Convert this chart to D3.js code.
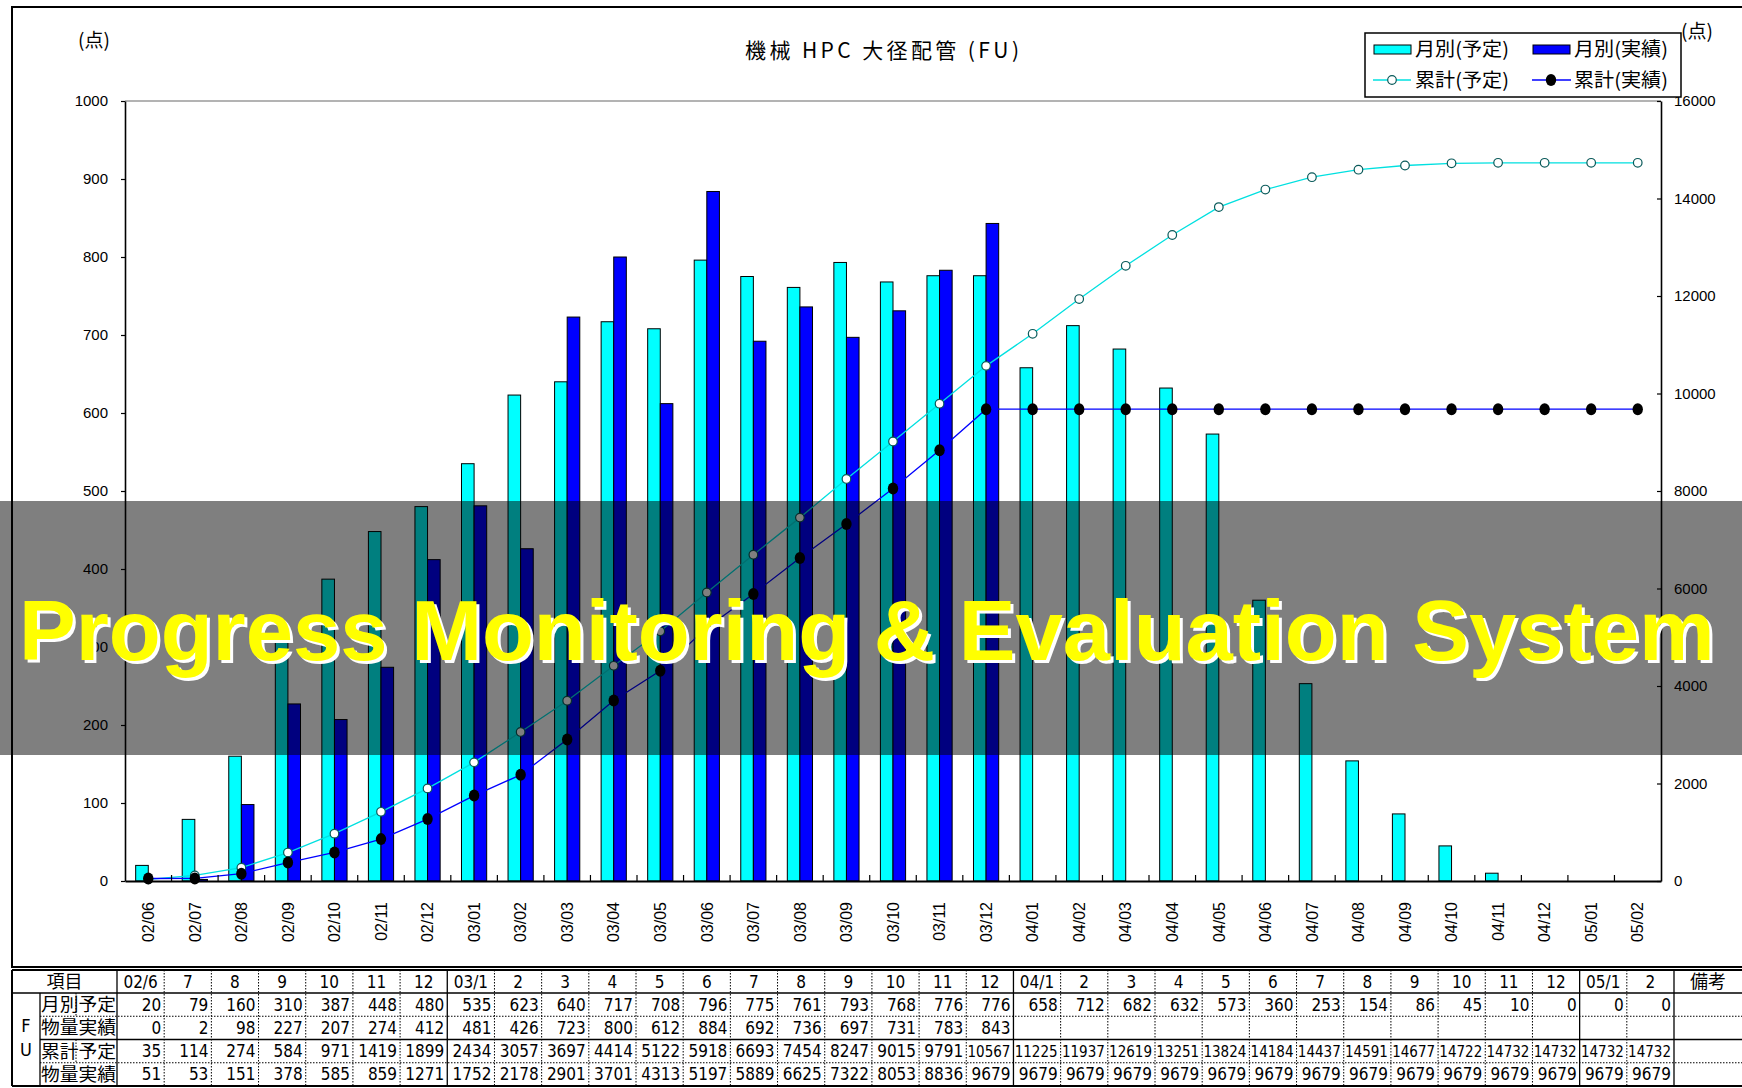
<!DOCTYPE html>
<html>
<head>
<meta charset="utf-8">
<script src="https://cdn.jsdelivr.net/npm/d3@7"></script>
<style>
  body { margin: 0; background: #fff; }
  svg { display: block; }
</style>
</head>
<body>
<svg id="chart" width="1742" height="1088"></svg>
<script>
// ---- data ----
const months = ["02/06","02/07","02/08","02/09","02/10","02/11","02/12",
  "03/01","03/02","03/03","03/04","03/05","03/06","03/07","03/08","03/09","03/10","03/11","03/12",
  "04/01","04/02","04/03","04/04","04/05","04/06","04/07","04/08","04/09","04/10","04/11","04/12",
  "05/01","05/02"];
const tableHeads = ["02/6","7","8","9","10","11","12",
  "03/1","2","3","4","5","6","7","8","9","10","11","12",
  "04/1","2","3","4","5","6","7","8","9","10","11","12",
  "05/1","2"];
const planMonthly = [20,79,160,310,387,448,480,535,623,640,717,708,796,775,761,793,768,776,776,
  658,712,682,632,573,360,253,154,86,45,10,0,0,0];
const actualMonthly = [0,2,98,227,207,274,412,481,426,723,800,612,884,692,736,697,731,783,843];
const planCumulative = [35,114,274,584,971,1419,1899,2434,3057,3697,4414,5122,5918,6693,7454,8247,9015,9791,10567,
  11225,11937,12619,13251,13824,14184,14437,14591,14677,14722,14732,14732,14732,14732];
const actualCumulative = [51,53,151,378,585,859,1271,1752,2178,2901,3701,4313,5197,5889,6625,7322,8053,8836,9679,
  9679,9679,9679,9679,9679,9679,9679,9679,9679,9679,9679,9679,9679,9679];
const leftTicks = [0,100,200,300,400,500,600,700,800,900,1000];
const rightTicks = [0,2000,4000,6000,8000,10000,12000,14000,16000];
const rowLabels = [["月別","予定"],["物量","実績"],["累計","予定"],["物量","実績"]];
const legendItems = ["月別(予定)","月別(実績)","累計(予定)","累計(実績)"];
const titleText = "機械 HPC 大径配管 (FU)";
const unitText = "(点)";
const bannerText = "Progress Monitoring & Evaluation System";

// ---- layout ----
const W = 1742, H = 1088;
const plot = { left: 125, right: 1661, top: 101, bottom: 881 };
const CYAN = "#00FFFF", BLUE = "#0000FF";
const latin = "'Liberation Sans', Arial, sans-serif";
const narrow = "'Liberation Sans Narrow', 'DejaVu Sans Condensed', 'Liberation Sans', sans-serif";
const cjk = "'Noto Sans CJK JP', 'Noto Sans CJK SC', sans-serif";

const svg = d3.select("#chart");

// outer frame of the chart sheet
svg.append("rect").attr("x", 12).attr("y", 7).attr("width", W + 20).attr("height", 960)
  .attr("fill", "none").attr("stroke", "#000").attr("stroke-width", 2);

// ---- scales ----
const x = d3.scaleBand().domain(months).range([plot.left, plot.right]).paddingInner(0).paddingOuter(0);
const bw = x.bandwidth();
const xSub = d3.scaleBand().domain(["plan", "actual"]).range([bw / 2 - 12.6, bw / 2 + 12.6]).padding(0);
const yL = d3.scaleLinear().domain([0, 1000]).range([plot.bottom, plot.top]);
const yR = d3.scaleLinear().domain([0, 16000]).range([plot.bottom, plot.top]);

// plot area top edge
svg.append("line").attr("x1", plot.left).attr("x2", plot.right)
  .attr("y1", plot.top).attr("y2", plot.top).attr("stroke", "#9a9a9a").attr("stroke-width", 1.5);

// ---- monthly bars ----
const bars = svg.append("g");
bars.selectAll("rect.plan").data(planMonthly).join("rect").attr("class", "plan")
  .attr("x", (d, i) => x(months[i]) + xSub("plan"))
  .attr("y", d => yL(d))
  .attr("width", xSub.bandwidth())
  .attr("height", d => yL(0) - yL(d))
  .attr("fill", CYAN).attr("stroke", "#000").attr("stroke-width", 1);
bars.selectAll("rect.actual").data(actualMonthly).join("rect").attr("class", "actual")
  .attr("x", (d, i) => x(months[i]) + xSub("actual"))
  .attr("y", d => yL(d))
  .attr("width", xSub.bandwidth())
  .attr("height", d => yL(0) - yL(d))
  .attr("fill", BLUE).attr("stroke", "#000").attr("stroke-width", 1);

// ---- cumulative lines ----
const cx = (d, i) => x(months[i]) + bw / 2;
const cumLine = d3.line().x(cx).y(d => yR(d));
svg.append("path").datum(planCumulative).attr("d", cumLine)
  .attr("fill", "none").attr("stroke", "#00E0E0").attr("stroke-width", 1.3);
svg.append("path").datum(actualCumulative).attr("d", cumLine)
  .attr("fill", "none").attr("stroke", BLUE).attr("stroke-width", 1.3);
svg.append("g").selectAll("circle").data(planCumulative).join("circle")
  .attr("cx", cx).attr("cy", d => yR(d)).attr("r", 4.3)
  .attr("fill", "#fff").attr("stroke", "#0a5a5a").attr("stroke-width", 1.2);
svg.append("g").selectAll("ellipse").data(actualCumulative).join("ellipse")
  .attr("cx", cx).attr("cy", d => yR(d)).attr("rx", 5.2).attr("ry", 6)
  .attr("fill", "#000");

// ---- axes ----
const plain = d3.format("d");
const axL = svg.append("g").attr("transform", `translate(${plot.left},0)`)
  .call(d3.axisLeft(yL).tickValues(leftTicks).tickFormat(plain)
    .tickSizeInner(4).tickSizeOuter(0).tickPadding(13));
const axR = svg.append("g").attr("transform", `translate(${plot.right},0)`)
  .call(d3.axisRight(yR).tickValues(rightTicks).tickFormat(plain)
    .tickSizeInner(-4).tickSizeOuter(0).tickPadding(13));
[axL, axR].forEach(a => {
  a.select(".domain").attr("stroke", "#000").attr("stroke-width", 1.6);
  a.selectAll(".tick line").attr("stroke", "#000").attr("stroke-width", 1.2);
  a.selectAll(".tick text").attr("font-family", latin).attr("font-size", 15).attr("fill", "#000");
});

const axB = svg.append("g").attr("transform", `translate(0,${plot.bottom})`)
  .call(d3.axisBottom(x).tickSize(0).tickPadding(0));
axB.select(".domain").attr("stroke", "#000").attr("stroke-width", 2);
axB.selectAll(".tick text")
  .attr("transform", "rotate(-90)")
  .attr("x", -21).attr("y", 0).attr("dy", "0.36em")
  .attr("text-anchor", "end")
  .attr("font-family", latin).attr("font-size", 16).attr("fill", "#000");
// small inner ticks on the category boundaries
svg.append("g").selectAll("line").data(months.slice(1)).join("line")
  .attr("x1", d => x(d)).attr("x2", d => x(d))
  .attr("y1", plot.bottom).attr("y2", plot.bottom - 6)
  .attr("stroke", "#000").attr("stroke-width", 1.2);

// ---- title, units ----
svg.append("text").attr("x", 882).attr("y", 58).attr("text-anchor", "middle")
  .attr("font-family", cjk).attr("font-size", 21)
  .attr("textLength", 274).attr("lengthAdjust", "spacing").text(titleText);
svg.append("text").attr("x", 78).attr("y", 47).attr("font-family", cjk).attr("font-size", 19).text(unitText);
svg.append("text").attr("x", 1681).attr("y", 38).attr("font-family", cjk).attr("font-size", 19).text(unitText);

// ---- legend ----
const lg = svg.append("g");
lg.append("rect").attr("x", 1365).attr("y", 33).attr("width", 316).attr("height", 64)
  .attr("fill", "#fff").attr("stroke", "#000").attr("stroke-width", 1.5);
lg.append("rect").attr("x", 1374).attr("y", 45).attr("width", 37).attr("height", 9)
  .attr("fill", CYAN).attr("stroke", "#000");
lg.append("rect").attr("x", 1533).attr("y", 45).attr("width", 37).attr("height", 9)
  .attr("fill", BLUE).attr("stroke", "#000");
lg.append("line").attr("x1", 1373).attr("x2", 1411).attr("y1", 80).attr("y2", 80)
  .attr("stroke", "#00E0E0").attr("stroke-width", 1.3);
lg.append("circle").attr("cx", 1392).attr("cy", 80).attr("r", 4.3)
  .attr("fill", "#fff").attr("stroke", "#0a5a5a").attr("stroke-width", 1.2);
lg.append("line").attr("x1", 1532).attr("x2", 1571).attr("y1", 80).attr("y2", 80)
  .attr("stroke", BLUE).attr("stroke-width", 1.3);
lg.append("ellipse").attr("cx", 1551).attr("cy", 80).attr("rx", 5.2).attr("ry", 6).attr("fill", "#000");
const legPos = [[1415, 56], [1574, 56], [1415, 87], [1574, 87]];
legendItems.forEach((t, i) => {
  lg.append("text").attr("x", legPos[i][0]).attr("y", legPos[i][1])
    .attr("font-family", cjk).attr("font-size", 19)
    .attr("textLength", 94).attr("lengthAdjust", "spacingAndGlyphs").text(t);
});

// ---- data table ----
const tb = svg.append("g");
const T = { left: 12, fuR: 40, labMid: 76, labR: 117, dataR: 1674, top: 970, head: 993 };
const colW = (T.dataR - T.labR) / tableHeads.length;
const colX = i => T.labR + i * colW;
const rowH = 23.25;
const rowTop = r => T.head + r * rowH;
const solid = (x1, y1, x2, y2, w) => tb.append("line").attr("x1", x1).attr("y1", y1).attr("x2", x2).attr("y2", y2)
  .attr("stroke", "#000").attr("stroke-width", w || 1.3);
const dotted = (x1, y1, x2, y2) => tb.append("line").attr("x1", x1).attr("y1", y1).attr("x2", x2).attr("y2", y2)
  .attr("stroke", "#000").attr("stroke-width", 1).attr("stroke-dasharray", "1.5,1.5");

// horizontal rules
solid(T.left, T.top, W, T.top, 2);
solid(T.left, T.head, W, T.head, 1.6);
dotted(T.fuR, rowTop(1), W, rowTop(1));
solid(T.fuR, rowTop(2), W, rowTop(2), 1.6);
dotted(T.fuR, rowTop(3), W, rowTop(3));
solid(T.left, rowTop(4), W, rowTop(4), 2);
// vertical rules
solid(T.left, T.top, T.left, rowTop(4), 2);
solid(T.fuR, T.head, T.fuR, rowTop(4));
solid(T.labR, T.top, T.labR, rowTop(4));
dotted(T.labMid, rowTop(0), T.labMid, rowTop(1));
dotted(T.labMid, rowTop(2), T.labMid, rowTop(3));
tableHeads.forEach((h, i) => {
  if (i === 0) return;
  const xx = colX(i);
  if (h.includes("/")) solid(xx, T.top, xx, rowTop(4));
  else dotted(xx, T.top, xx, rowTop(4));
});
solid(T.dataR, T.top, T.dataR, rowTop(4));

// header row
tb.append("text").attr("x", (T.left + T.labR) / 2).attr("y", 988).attr("text-anchor", "middle")
  .attr("font-family", cjk).attr("font-size", 18).text("項目");
tb.append("text").attr("x", 1708).attr("y", 988).attr("text-anchor", "middle")
  .attr("font-family", cjk).attr("font-size", 18).text("備考");
tb.selectAll("text.head").data(tableHeads).join("text").attr("class", "head")
  .attr("x", (d, i) => colX(i) + colW / 2).attr("y", 988).attr("text-anchor", "middle")
  .attr("font-family", narrow).attr("font-size", 17).text(d => d);

// row labels
tb.append("text").attr("x", 26).attr("y", 1032).attr("text-anchor", "middle")
  .attr("font-family", narrow).attr("font-size", 18).text("F");
tb.append("text").attr("x", 26).attr("y", 1056).attr("text-anchor", "middle")
  .attr("font-family", narrow).attr("font-size", 18).text("U");
rowLabels.forEach((lab, r) => {
  tb.append("text").attr("x", T.fuR + 1).attr("y", rowTop(r) + 18)
    .attr("font-family", cjk).attr("font-size", 18)
    .attr("textLength", 75).attr("lengthAdjust", "spacingAndGlyphs").text(lab[0] + lab[1]);
});

// row values
const tableRows = [planMonthly, actualMonthly, planCumulative, actualCumulative];
tableRows.forEach((vals, r) => {
  tb.selectAll(`text.r${r}`).data(vals).join("text").attr("class", `r${r}`)
    .attr("x", (d, i) => colX(i + 1) - 3)
    .attr("y", rowTop(r) + rowH / 2 + 6)
    .attr("text-anchor", "end")
    .attr("font-family", narrow)
    .attr("font-size", d => (d >= 10000 ? 15 : 17))
    .text(d => d);
});

// ---- banner ----
const bn = svg.append("g");
bn.append("rect").attr("x", 0).attr("y", 501).attr("width", W).attr("height", 254)
  .attr("fill", "#000").attr("fill-opacity", 0.5);
bn.append("text").attr("x", 22).attr("y", 663)
  .attr("font-family", latin).attr("font-weight", "bold").attr("font-size", 85)
  .attr("fill", "#fff").text(bannerText);
bn.append("text").attr("x", 19).attr("y", 660)
  .attr("font-family", latin).attr("font-weight", "bold").attr("font-size", 85)
  .attr("fill", "#FFFF00").text(bannerText);
</script>
</body>
</html>
